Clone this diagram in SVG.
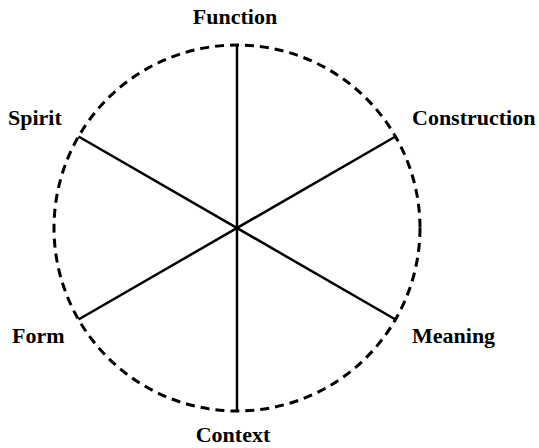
<svg xmlns="http://www.w3.org/2000/svg" width="539" height="448" viewBox="0 0 539 448">
<style>
.lbl{font-family:"Liberation Serif","Times New Roman",serif;font-weight:bold;font-size:22px;fill:#000}
.spoke{stroke:#000;stroke-width:2.5;fill:none;stroke-linecap:butt}
.ring{stroke:#000;stroke-width:3;fill:none;stroke-dasharray:9 6}
</style>
<rect width="539" height="448" fill="#fff"/>
<g id="ring"><circle class="ring" cx="237" cy="228" r="183"/></g>
<g id="connectors">
<line class="spoke" x1="237" y1="45" x2="237" y2="411"/>
<line class="spoke" x1="395.5" y1="136.5" x2="78.5" y2="319.5"/>
<line class="spoke" x1="78.5" y1="136.5" x2="395.5" y2="319.5"/>
</g>
<g id="function"><text class="lbl" x="235" y="24" text-anchor="middle">Function</text></g>
<g id="construction"><text class="lbl" x="412" y="125">Construction</text></g>
<g id="meaning"><text class="lbl" x="412" y="343">Meaning</text></g>
<g id="context"><text class="lbl" x="233" y="442" text-anchor="middle">Context</text></g>
<g id="form"><text class="lbl" x="12" y="343">Form</text></g>
<g id="spirit"><text class="lbl" x="8" y="125">Spirit</text></g>
</svg>
